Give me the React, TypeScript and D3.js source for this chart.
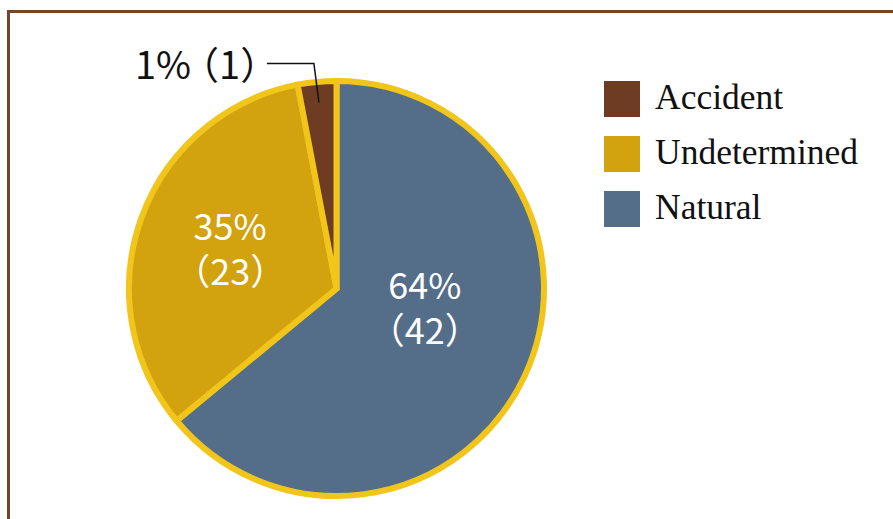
import React from "react";
import * as d3 from "d3";

const categories = ["Natural", "Undetermined", "Accident"];
const counts = [42, 23, 1];
const percentLabels = ["64%", "35%", "1%"];
const sliceShare = [64, 33, 3];
const colors = ["#546E8A", "#D2A20F", "#6E3B23"];
const legendOrder = ["Accident", "Undetermined", "Natural"];

const W = 893;
const H = 519;
const cx = 336.5;
const cy = 288.5;
const R = 207.5;

export default function App() {
  const pie = d3
    .pie<number>()
    .sort(null)
    .value((d) => d);
  const arcs = pie(sliceShare);
  const arcGen = d3.arc<d3.PieArcDatum<number>>().innerRadius(0).outerRadius(R);
  const labelArc = d3.arc<d3.PieArcDatum<number>>().innerRadius(113).outerRadius(113);
  const labelOffsets = [
    [-14, -28],
    [0, 0],
  ];
  const polar = (a: number, r: number) => [cx + r * Math.sin(a), cy - r * Math.cos(a)];

  const acc = arcs[2];
  const accMid = (acc.startAngle + acc.endAngle) / 2;
  const [ex, ey] = polar(accMid, 187);
  const elbow = [ex - 5, 63.5];
  const start = [elbow[0] - 47, 63.5];

  const color = d3.scaleOrdinal<string, string>().domain(categories).range(colors);
  const legendY = d3.scaleBand().domain(legendOrder).range([81, 81 + 55 * 3]);
  const cjk = "'Noto Sans CJK JP', 'Noto Sans', sans-serif";

  return (
    <svg
      width={W}
      height={H}
      style={{ position: "absolute", left: 0, top: 0, display: "block" }}
    >
      <rect x={0} y={0} width={W} height={H} fill="#fff" />
      <rect x={8.5} y={11.5} width={W + 20} height={H + 20} fill="none" stroke="#754529" strokeWidth={3} />
      <g transform={`translate(${cx},${cy})`}>
        {arcs.map((a, i) => (
          <path key={i} d={arcGen(a) || ""} fill={colors[i]} stroke="#F1C51A" strokeWidth={6} strokeLinejoin="miter" />
        ))}
      </g>
      {arcs.slice(0, 2).map((a, i) => {
        const [lx, ly] = labelArc.centroid(a);
        const x = cx + lx + labelOffsets[i][0];
        const y = cy + ly + labelOffsets[i][1];
        return (
          <g key={i}>
            <text x={x} y={y - 10} textAnchor="middle" fill="#fff" fontFamily={cjk} fontSize={36}>
              {percentLabels[i]}
            </text>
            <text x={x} y={y + 35} textAnchor="middle" fill="#fff" fontFamily={cjk} fontSize={36}>
              {`（${counts[i]}）`}
            </text>
          </g>
        );
      })}
      <polyline
        points={`${start[0]},${start[1]} ${elbow[0]},${elbow[1]} ${ex},${ey}`}
        fill="none"
        stroke="#111"
        strokeWidth={1.5}
      />
      <text x={135} y={79} fill="#111" fontFamily={cjk} fontSize={38}>
        <tspan>{percentLabels[2]}</tspan>
        <tspan dx={-10}>{`（${counts[2]}）`}</tspan>
      </text>
      {legendOrder.map((name) => {
        const y0 = legendY(name) || 0;
        return (
          <g key={name}>
            <rect x={604} y={y0} width={36} height={36} fill={color(name)} />
            <text
              x={655}
              y={y0 + 28}
              fill="#111"
              fontFamily="'Liberation Serif', serif"
              fontSize={35.5}
            >
              {name}
            </text>
          </g>
        );
      })}
    </svg>
  );
}
